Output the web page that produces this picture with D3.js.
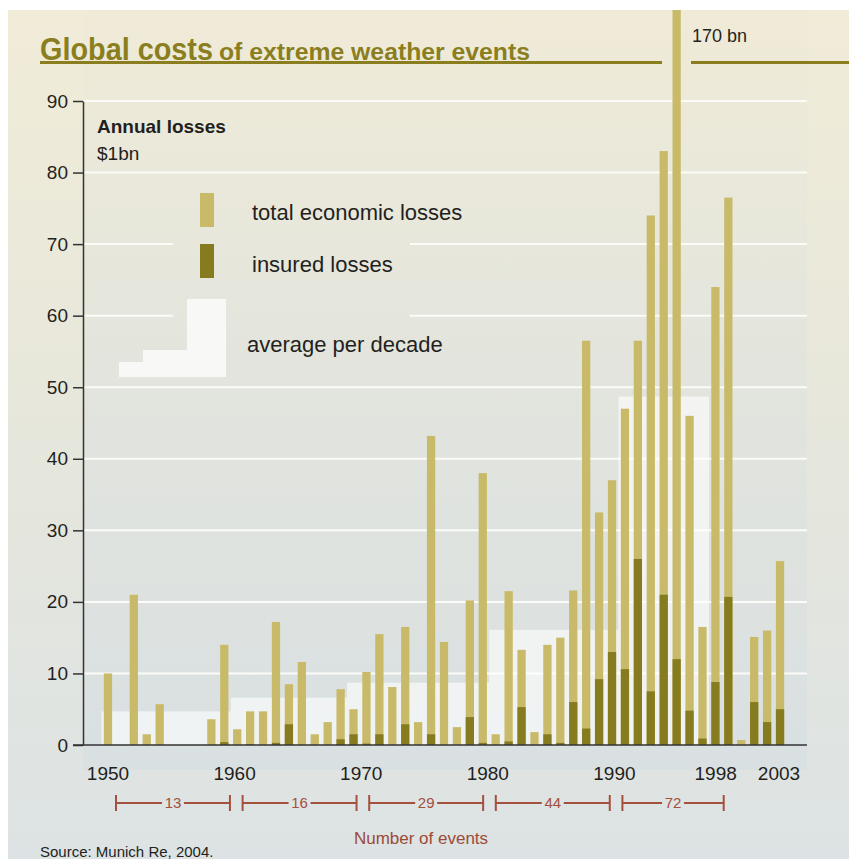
<!DOCTYPE html>
<html>
<head>
<meta charset="utf-8">
<script src="https://cdn.jsdelivr.net/npm/d3@7"></script>
<style>
body{margin:0;background:#fff}
svg{display:block}
text{font-family:"Liberation Sans",Arial,Helvetica,sans-serif}
</style>
</head>
<body>
<svg id="chart" width="849" height="859"></svg>
<script>
// one bar per year, as drawn in the original (53 bars)
var years = [1951,1952,1953,1954,1955,1956,1957,1958,1959,1960,
             1961,1962,1963,1964,1965,1966,1967,1968,1969,1970,
             1971,1972,1973,1974,1975,1976,1977,1978,1979,1980,
             1981,1982,1983,1984,1985,1986,1987,1988,1989,1990,
             1991,1992,1993,1994,1995,1996,1997,1998,1999,2000,
             2001,2002,2003]
// total economic losses, $bn
var total = [10,0,21,1.5,5.7,0,0,0,3.6,14,
             2.2,4.7,4.7,17.2,8.5,11.6,1.5,3.2,7.8,5,
             10.2,15.5,8.1,16.5,3.2,43.2,14.4,2.5,20.2,38,
             1.5,21.5,13.3,1.8,14,15,21.6,56.5,32.5,37,
             47,56.5,74,83,170,46,16.5,64,76.5,0.7,
             15.1,16,25.7]
// insured losses, $bn
var insured = [0,0,0,0,0,0,0,0,0,0.4,
               0,0.1,0,0.3,2.9,0,0,0,0.8,1.5,
               0.2,1.5,0,2.9,0,1.5,0,0,3.9,0.3,
               0,0.5,5.3,0,1.5,0.3,6,2.3,9.2,13,
               10.6,26,7.5,21,12,4.8,0.9,8.8,20.7,0,
               6,3.2,5]

var tickYears = [1950,1960,1970,1980,1990,1998,2003]
var yTicks = [0,10,20,30,40,50,60,70,80,90]

// average per decade (white steps behind the bars)
var avgFirst = [1951,1961,1970,1981,1991]
var avgLast  = [1960,1969,1980,1990,1997]
var avgValue = [4.7,6.6,8.7,16.1,48.7]

// number of events per decade
var eventFrom  = [1950,1960,1970,1980,1990]
var eventTo    = [1959,1969,1979,1989,1998]
var eventCount = [13,16,29,44,72]

var lightCol = "#c8ba69", darkCol = "#877b1f", olive = "#8a7e1f", red = "#a3503d", ink = "#231f20"

var svg = d3.select("#chart")
var defs = svg.append("defs")

var g1 = defs.append("linearGradient").attr("id","pageBg").attr("x1",0).attr("y1",0).attr("x2",0).attr("y2",1)
g1.append("stop").attr("offset","0%").attr("stop-color","#f1ecd8")
g1.append("stop").attr("offset","45%").attr("stop-color","#e7e7db")
g1.append("stop").attr("offset","100%").attr("stop-color","#dde3e4")

var g2 = defs.append("linearGradient").attr("id","plotBg").attr("x1",0).attr("y1",0).attr("x2",0).attr("y2",1)
g2.append("stop").attr("offset","0%").attr("stop-color","#f0ebd7")
g2.append("stop").attr("offset","45%").attr("stop-color","#e3e5dd")
g2.append("stop").attr("offset","100%").attr("stop-color","#d9e0e2")

defs.append("clipPath").attr("id","clipTop")
  .append("rect").attr("x",0).attr("y",10).attr("width",849).attr("height",849)

svg.append("rect").attr("x",8).attr("y",10).attr("width",841).attr("height",849).attr("fill","url(#pageBg)")
svg.append("rect").attr("x",83).attr("y",10).attr("width",724).attr("height",760).attr("fill","url(#plotBg)")

const x = d3.scaleBand()
    .domain(years)
    .range([101.5, 786.5])
    .paddingInner(0.36)
    .paddingOuter(0.18)
const xt = d3.scaleLinear().domain([1950, 2003]).range([108, 779])
const y = d3.scaleLinear().domain([0, 90]).range([745, 101])
const gap = x.step() * x.paddingInner() / 2

// gridlines (60 and 70 are broken behind the legend)
yTicks.filter(function(t){ return t > 0 }).forEach(function(t){
    var segs = (t == 60 || t == 70) ? [[83,173],[410,807]] : [[83,807]]
    segs.forEach(function(s){
        svg.append("line")
          .attr("x1", s[0]).attr("x2", s[1])
          .attr("y1", y(t)).attr("y2", y(t))
          .attr("stroke", "#fbfbf7").attr("stroke-width", 2)
    })
})

// average per decade
svg.append("g")
  .selectAll("rect")
  .data(avgValue)
  .enter()
  .append("rect")
    .attr("x", function(d,i){ return x(avgFirst[i]) - gap })
    .attr("width", function(d,i){ return x(avgLast[i]) + x.bandwidth() + gap - (x(avgFirst[i]) - gap) })
    .attr("y", function(d){ return y(d) })
    .attr("height", function(d){ return y(0) - y(d) })
    .attr("fill", "#ffffff")
    .attr("opacity", 0.6)

// bars
var bars = svg.append("g").attr("clip-path","url(#clipTop)")
bars.selectAll("rect.total")
  .data(total)
  .enter()
  .append("rect")
    .attr("class","total")
    .attr("x", function(d,i){ return x(years[i]) })
    .attr("width", x.bandwidth())
    .attr("y", function(d){ return y(d) })
    .attr("height", function(d){ return y(0) - y(d) })
    .attr("fill", lightCol)
bars.selectAll("rect.insured")
  .data(insured)
  .enter()
  .append("rect")
    .attr("class","insured")
    .attr("x", function(d,i){ return x(years[i]) })
    .attr("width", x.bandwidth())
    .attr("y", function(d){ return y(d) })
    .attr("height", function(d){ return y(0) - y(d) })
    .attr("fill", darkCol)

// y axis
var yAxis = svg.append("g")
    .attr("transform","translate(83,0)")
    .call(d3.axisLeft(y).tickValues(yTicks).tickSize(10).tickSizeOuter(0).tickPadding(5))
yAxis.select(".domain").attr("stroke", "#333").attr("stroke-width", 1.5)
yAxis.selectAll(".tick line").attr("stroke", "#333").attr("stroke-width", 1.5)
yAxis.selectAll(".tick text")
    .attr("fill", ink)
    .style("font-size", "19px")
    .style("font-family", '"Liberation Sans", Arial, sans-serif')

// baseline
svg.append("line")
  .attr("x1", 73).attr("x2", 807)
  .attr("y1", y(0)).attr("y2", y(0))
  .attr("stroke", "#333").attr("stroke-width", 1.5)

// year labels
svg.append("g")
  .selectAll("text")
  .data(tickYears)
  .enter()
  .append("text")
    .attr("x", function(d){ return xt(d) })
    .attr("y", 780)
    .attr("text-anchor", "middle")
    .attr("fill", ink)
    .style("font-size", "19px")
    .text(function(d){ return d })

// number of events brackets
var br = svg.append("g").attr("stroke", red).attr("stroke-width", 2)
eventCount.forEach(function(n, i){
    var x1 = xt(eventFrom[i]) + 8, x2 = xt(eventTo[i]) + 8, mid = (x1 + x2) / 2
    br.append("line").attr("x1", x1).attr("x2", mid - 11).attr("y1", 803).attr("y2", 803)
    br.append("line").attr("x1", mid + 11).attr("x2", x2).attr("y1", 803).attr("y2", 803)
    br.append("line").attr("x1", x1).attr("x2", x1).attr("y1", 795).attr("y2", 811)
    br.append("line").attr("x1", x2).attr("x2", x2).attr("y1", 795).attr("y2", 811)
    svg.append("text")
      .attr("x", mid).attr("y", 808)
      .attr("text-anchor", "middle")
      .attr("fill", red)
      .style("font-size", "15px")
      .text(n)
})
svg.append("text")
  .attr("x", 421).attr("y", 844)
  .attr("text-anchor", "middle")
  .attr("fill", "#9c4a37")
  .style("font-size", "17px")
  .text("Number of events")

svg.append("text")
  .attr("x", 40).attr("y", 857)
  .attr("fill", ink)
  .style("font-size", "15px")
  .text("Source: Munich Re, 2004.")

// title
svg.append("text")
  .attr("x", 40).attr("y", 60)
  .attr("fill", olive)
  .attr("textLength", 173).attr("lengthAdjust", "spacingAndGlyphs")
  .style("font-size", "31px").style("font-weight", "bold")
  .text("Global costs")
svg.append("text")
  .attr("x", 219).attr("y", 60)
  .attr("fill", olive)
  .attr("textLength", 311).attr("lengthAdjust", "spacingAndGlyphs")
  .style("font-size", "23px").style("font-weight", "bold")
  .text("of extreme weather events")
svg.append("rect").attr("x", 40).attr("y", 61).attr("width", 622).attr("height", 3).attr("fill", olive)
svg.append("rect").attr("x", 691).attr("y", 61).attr("width", 158).attr("height", 3).attr("fill", olive)

svg.append("text")
  .attr("x", 692).attr("y", 42)
  .attr("fill", ink)
  .style("font-size", "18px")
  .text("170 bn")

// legend
svg.append("text").attr("x", 97).attr("y", 133).attr("fill", ink)
  .style("font-size", "19px").style("font-weight", "bold").text("Annual losses")
svg.append("text").attr("x", 97).attr("y", 160).attr("fill", ink)
  .style("font-size", "19px").text("$1bn")

svg.append("rect").attr("x", 200).attr("y", 193).attr("width", 14).attr("height", 34).attr("fill", lightCol)
svg.append("rect").attr("x", 200).attr("y", 244).attr("width", 14).attr("height", 34).attr("fill", darkCol)
svg.append("text").attr("x", 252).attr("y", 220).attr("fill", ink)
  .style("font-size", "22px").text("total economic losses")
svg.append("text").attr("x", 252).attr("y", 272).attr("fill", ink)
  .style("font-size", "22px").text("insured losses")

var stair = svg.append("g").attr("fill", "#ffffff").attr("opacity", 0.75)
stair.append("rect").attr("x", 119).attr("y", 362).attr("width", 107).attr("height", 15)
stair.append("rect").attr("x", 143).attr("y", 350).attr("width", 83).attr("height", 12)
stair.append("rect").attr("x", 187).attr("y", 299).attr("width", 39).attr("height", 51)
svg.append("text").attr("x", 247).attr("y", 352).attr("fill", ink)
  .style("font-size", "22px").text("average per decade")
</script>
</body>
</html>
